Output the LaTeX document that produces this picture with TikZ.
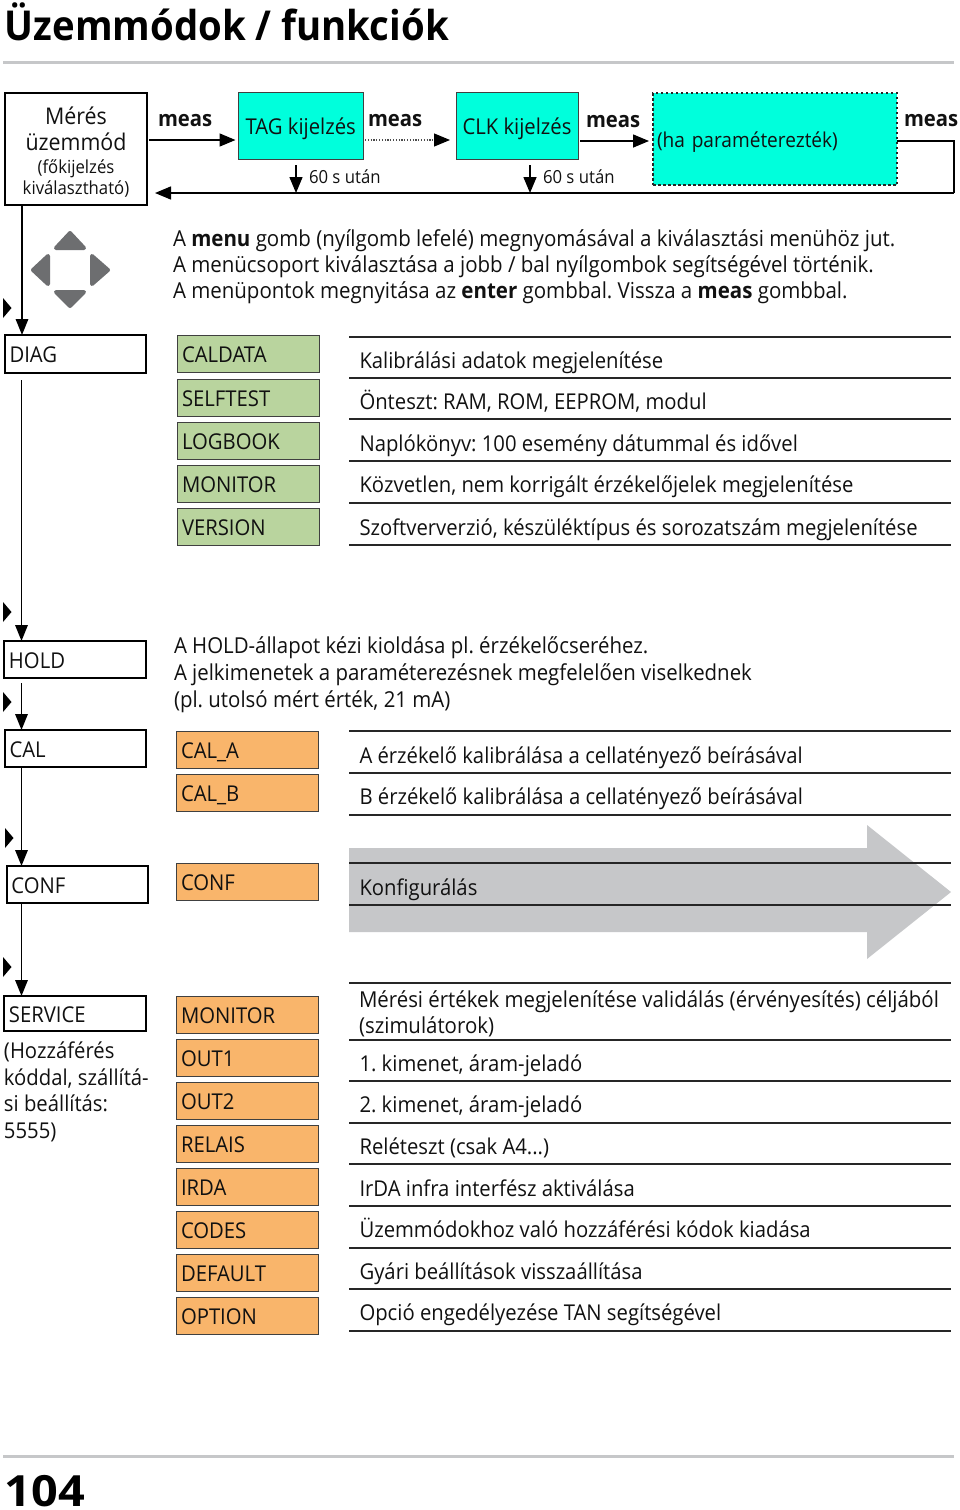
\documentclass[tikz,border=0pt]{standalone}
\usepackage{fontspec}
\setmainfont[FakeStretch=0.93]{Open Sans}
\usetikzlibrary{arrows.meta,calc}
\frenchspacing
\definecolor{cyanbox}{HTML}{00FFDC}
\definecolor{greenbox}{HTML}{B9D49E}
\definecolor{orangebox}{HTML}{F9B56B}
\definecolor{padgray}{HTML}{6D6E70}
\definecolor{rulegray}{HTML}{C6C7C9}
\definecolor{txt}{HTML}{111111}
\newcommand{\txtsize}{\fontsize{21.8}{26}\selectfont}
\newcommand{\parasize}{\fontsize{22.03}{26}\selectfont}
\newcommand{\bx}[7]{\pgfmathsetmacro{\bw}{#5-#3}\pgfmathsetmacro{\bh}{#6-#4}%
  \node[#2,minimum width=\bw pt,minimum height=\bh pt,anchor=north west] (#1) at (#3,#4) {#7};}
\newcommand{\hr}[1]{\draw[rowrule] (349,#1) -- (951,#1);}
\tikzset{
  base/.style={inner sep=0pt,outer sep=0pt,text=txt,font=\txtsize},
  modebox/.style={base,draw=black,line width=2pt,fill=white,align=left,text width=132pt,text height=20pt,text depth=3pt},
  greenitem/.style={base,draw=black!75,line width=.8pt,fill=greenbox,align=left,text width=132pt,text height=20pt,text depth=3pt},
  orangeitem/.style={base,draw=black!75,line width=.8pt,fill=orangebox,align=left,text width=132pt,text height=20pt,text depth=3pt},
  cyanitem/.style={base,draw=black!75,line width=.8pt,fill=cyanbox,align=center,text height=20pt,text depth=3pt},
  lab/.style={base,anchor=base west,align=left},
  measlab/.style={base,anchor=base west,font=\fontsize{21.8}{24}\selectfont\bfseries},
  smalllab/.style={base,anchor=base west,font=\fontsize{18}{20}\selectfont},
  conn/.style={draw=black,line width=1.6pt,-{Triangle[length=16pt,width=12.5pt]}},
  conn2/.style={draw=black,line width=1.5pt,-{Triangle[length=16pt,width=13pt]}},
  dotconn/.style={draw=black!70,line width=1.2pt,dash pattern=on 1.2pt off 1.6pt,-{Triangle[length=16pt,width=13pt,fill=black,color=black]}},
  plain/.style={draw=black,line width=1.5pt},
  rowrule/.style={draw=black!85,line width=1.3pt},
  pagerule/.style={draw=rulegray,line width=3pt},
  pad/.style={fill=padgray,draw=padgray,line width=4pt,line join=round},
  marker/.style={fill=black,draw=none},
}
\begin{document}
\begin{tikzpicture}[x=1pt,y=-1pt]
\useasboundingbox (0,0) rectangle (960,1510);
\fill[white] (0,0) rectangle (960,1510);
% title and page rules
\node[base,anchor=base west,font=\fontsize{41.2}{46}\selectfont\bfseries,text=black] (title) at (5,40) {Üzemmódok / funkciók};
\draw[pagerule] (3,62) -- (954,62);
\draw[pagerule] (3,1456) -- (954,1456);
\node[base,anchor=base west,font=\fontsize{43}{46}\selectfont\bfseries,text=black] (pagenum) at (5,1506) {\scalebox{1.17}[1]{104}};
% top row
\bx{mm}{modebox,text height=0pt,text depth=0pt}{5}{93}{147}{205}{}
\node[base,align=center,anchor=north] (mmtext) at (76,107) {\fontsize{23}{26}\selectfont Mérés\\\fontsize{23}{26}\selectfont üzemmód\\[-3pt]\fontsize{18}{21}\selectfont (főkijelzés\\[-5pt]\fontsize{18}{21}\selectfont kiválasztható)};
\bx{tag}{cyanitem}{238.5}{92}{363}{159}{TAG kijelzés}
\bx{clk}{cyanitem}{456}{92}{578}{159}{CLK kijelzés}
\bx{opt}{base,fill=cyanbox,draw=black!85,line width=2.5pt,dash pattern=on 2.5pt off 2.5pt,align=left,text width=236pt,text height=20pt,text depth=3pt,font=\fontsize{20.5}{24}\selectfont}{653}{93}{897}{185}{(ha paraméterezték)}
\node[measlab] (m1) at (158,126) {meas};
\node[measlab] (m2) at (368,126) {meas};
\node[measlab] (m3) at (586,127) {meas};
\node[measlab] (m4) at (904,126) {meas};
\node[smalllab] (s1) at (309,183) {60 s után};
\node[smalllab] (s2) at (543,183) {60 s után};
\coordinate (ret) at (954,193);
\coordinate (retcorner) at (954,141);
\coordinate (t1) at (296,165);
\coordinate (t2) at (530,165);
\draw[conn2] ([xshift=2pt,yshift=9pt]mm.east) -- ([xshift=-3pt,yshift=-14.5pt]tag.west);
\draw[dotconn] ([xshift=2pt,yshift=-14.5pt]tag.east) -- ([xshift=-6pt,yshift=-14.5pt]clk.west);
\draw[conn2] ([xshift=2pt,yshift=-15.5pt]clk.east) -- ([xshift=-4pt,yshift=-2pt]opt.west);
\draw[plain] ([yshift=-2pt]opt.east) -- (retcorner) -- (ret);
\draw[conn2] (ret) -- ([xshift=8pt]mm.east |- ret);
\draw[conn2] (t1) -- (t1 |- ret);
\draw[conn2] (t2) -- (t2 |- ret);
% d-pad
\path[pad] (70,233) -- (84,248) -- (56,248) -- cycle;
\path[pad] (70,306) -- (84,292) -- (56,292) -- cycle;
\path[pad] (33,270) -- (48,256) -- (48,284) -- cycle;
\path[pad] (108,270) -- (92,256) -- (92,284) -- cycle;
% paragraph
\node[lab,anchor=north west,font=\parasize] (para) at (173,230) {A \textbf{menu} gomb (nyílgomb lefelé) megnyomásával a kiválasztási menühöz jut.\\A menücsoport kiválasztása a jobb / bal nyílgombok segítségével történik.\\A menüpontok megnyitása az \textbf{enter} gombbal. Vissza a \textbf{meas} gombbal.};
% mode column
\bx{diag}{modebox}{5}{335}{146}{373}{DIAG}
\bx{hold}{modebox}{4}{641}{146}{678}{HOLD}
\bx{cal}{modebox}{5}{730}{146}{767}{CAL}
\bx{conf}{modebox}{7}{866}{148}{903}{CONF}
\bx{serv}{modebox}{4}{996}{146}{1031}{SERVICE}
\coordinate (d1) at (21.5,380);
\coordinate (d2) at (21.5,683);
\draw[conn] ([xshift=17pt]mm.south west) -- ([xshift=17pt]diag.north west);
\draw[conn] (d1) -- (d1 |- hold.north);
\draw[conn] (d2) -- (d2 |- cal.north);
\draw[conn] (d2 |- cal.south) -- (d2 |- conf.north);
\draw[conn] (d2 |- conf.south) -- (d2 |- serv.north);
\foreach \mx/\my in {3/308,3/612,3/702,5/838,3/967}{\fill[marker] (\mx,\my-10) -- (\mx+8.5,\my) -- (\mx,\my+10) -- cycle;}
\node[lab,anchor=north west,font=\fontsize{21.8}{26.6}\selectfont] (access) at (4,1042) {(Hozzáférés\\kóddal, szállítá-\\si beállítás:\\5555)};
% green items
\bx{g1}{greenitem}{177}{335}{319}{372}{CALDATA}
\bx{g2}{greenitem}{177}{379}{319}{416}{SELFTEST}
\bx{g3}{greenitem}{177}{422}{319}{459}{LOGBOOK}
\bx{g4}{greenitem}{177}{465}{319}{502}{MONITOR}
\bx{g5}{greenitem}{177}{508}{319}{545}{VERSION}
% orange items
\bx{o1}{orangeitem}{176}{731}{318}{768}{CAL\_A}
\bx{o2}{orangeitem}{176}{774}{318}{811}{CAL\_B}
\bx{o3}{orangeitem}{176}{863}{318}{900}{CONF}
\bx{o4}{orangeitem}{176}{996}{318}{1033}{MONITOR}
\bx{o5}{orangeitem}{176}{1039}{318}{1076}{OUT1}
\bx{o6}{orangeitem}{176}{1082}{318}{1119}{OUT2}
\bx{o7}{orangeitem}{176}{1125}{318}{1162}{RELAIS}
\bx{o8}{orangeitem}{176}{1168}{318}{1205}{IRDA}
\bx{o9}{orangeitem}{176}{1211}{318}{1248}{CODES}
\bx{o10}{orangeitem}{176}{1254}{318}{1291}{DEFAULT}
\bx{o11}{orangeitem}{176}{1297}{318}{1334}{OPTION}
% gray arrow
\fill[rulegray] (349,848) -- (867,848) -- (867,825) -- (951,892) -- (867,959) -- (867,932) -- (349,932) -- cycle;
% rules
\foreach \r in {337,378,419,461,503,545,731,773,815,863,905,983,1040,1081,1123,1164,1206,1248,1289,1331}{\hr{\r}}
% right descriptions
\node[lab] (d01) at (359.5,368) {Kalibrálási adatok megjelenítése};
\node[lab] (d02) at (359.5,409) {Önteszt: RAM, ROM, EEPROM, modul};
\node[lab] (d03) at (359.5,451) {Naplókönyv: 100 esemény dátummal és idővel};
\node[lab] (d04) at (359.5,492) {Közvetlen, nem korrigált érzékelőjelek megjelenítése};
\node[lab] (d05) at (359.5,535) {Szoftververzió, készüléktípus és sorozatszám megjelenítése};
\node[lab,anchor=north west,font=\fontsize{21.95}{27}\selectfont] (holdtext) at (174,637) {A HOLD-állapot kézi kioldása pl. érzékelőcseréhez.\\A jelkimenetek a paraméterezésnek megfelelően viselkednek\\(pl. utolsó mért érték, 21 mA)};
\node[lab] (d06) at (359.5,763) {A érzékelő kalibrálása a cellatényező beírásával};
\node[lab] (d07) at (359.5,804) {B érzékelő kalibrálása a cellatényező beírásával};
\node[lab] (d08) at (359.5,895) {Konfigurálás};
\node[lab,anchor=north west,font=\fontsize{21.95}{26}\selectfont] (d09) at (359,991) {Mérési értékek megjelenítése validálás (érvényesítés) céljából\\(szimulátorok)};
\node[lab] (d10) at (359.5,1071) {1. kimenet, áram-jeladó};
\node[lab] (d11) at (359.5,1112) {2. kimenet, áram-jeladó};
\node[lab] (d12) at (359.5,1154) {Reléteszt (csak A4...)};
\node[lab] (d13) at (359.5,1196) {IrDA infra interfész aktiválása};
\node[lab] (d14) at (359.5,1237) {Üzemmódokhoz való hozzáférési kódok kiadása};
\node[lab] (d15) at (359.5,1279) {Gyári beállítások visszaállítása};
\node[lab] (d16) at (359.5,1320) {Opció engedélyezése TAN segítségével};
\end{tikzpicture}
\end{document}
